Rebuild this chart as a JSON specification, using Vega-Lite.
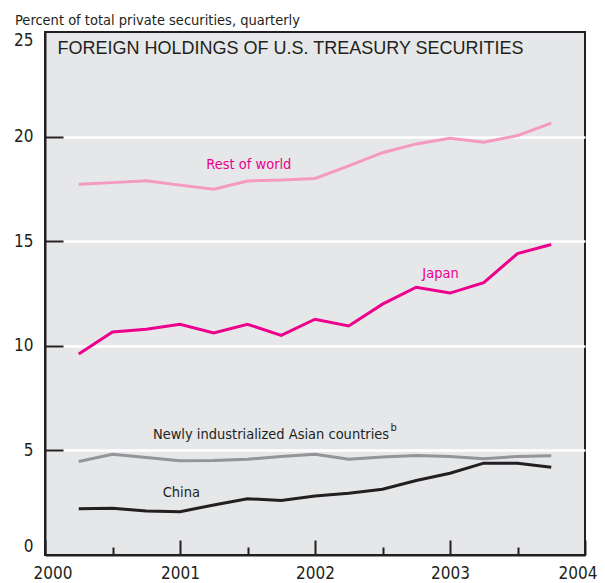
{
  "$schema": "https://vega.github.io/schema/vega-lite/v6.json",
  "width": 540,
  "height": 523,
  "autosize": {"type": "none"},
  "padding": {"left": 45, "top": 32, "right": 20, "bottom": 28},
  "background": "white",
  "config": {
    "view": {"fill": "#e6e7e8", "stroke": "#231f20", "strokeWidth": 2},
    "font": "DejaVu Sans Condensed, Liberation Sans Narrow, Roboto, sans-serif"
  },
  "title": {
    "text": "Percent of total private securities, quarterly",
    "anchor": "start",
    "frame": "group",
    "orient": "top",
    "offset": -8,
    "dx": -30,
    "baseline": "alphabetic",
    "font": "DejaVu Sans Condensed, Liberation Sans Narrow, Roboto, sans-serif",
    "fontSize": 14.5,
    "fontWeight": "normal",
    "color": "#231f20"
  },
  "datasets": {
    "series": [
      {"series": "Rest of world", "date": 2000.25, "value": 17.72},
      {"series": "Rest of world", "date": 2000.5, "value": 17.8},
      {"series": "Rest of world", "date": 2000.75, "value": 17.89},
      {"series": "Rest of world", "date": 2001.0, "value": 17.68},
      {"series": "Rest of world", "date": 2001.25, "value": 17.48},
      {"series": "Rest of world", "date": 2001.5, "value": 17.88},
      {"series": "Rest of world", "date": 2001.75, "value": 17.92},
      {"series": "Rest of world", "date": 2002.0, "value": 18.0},
      {"series": "Rest of world", "date": 2002.25, "value": 18.6},
      {"series": "Rest of world", "date": 2002.5, "value": 19.23},
      {"series": "Rest of world", "date": 2002.75, "value": 19.65},
      {"series": "Rest of world", "date": 2003.0, "value": 19.92},
      {"series": "Rest of world", "date": 2003.25, "value": 19.73},
      {"series": "Rest of world", "date": 2003.5, "value": 20.05},
      {"series": "Rest of world", "date": 2003.75, "value": 20.64},
      {"series": "Japan", "date": 2000.25, "value": 9.61},
      {"series": "Japan", "date": 2000.5, "value": 10.66},
      {"series": "Japan", "date": 2000.75, "value": 10.79},
      {"series": "Japan", "date": 2001.0, "value": 11.03},
      {"series": "Japan", "date": 2001.25, "value": 10.61},
      {"series": "Japan", "date": 2001.5, "value": 11.03},
      {"series": "Japan", "date": 2001.75, "value": 10.5},
      {"series": "Japan", "date": 2002.0, "value": 11.27},
      {"series": "Japan", "date": 2002.25, "value": 10.95},
      {"series": "Japan", "date": 2002.5, "value": 11.99},
      {"series": "Japan", "date": 2002.75, "value": 12.8},
      {"series": "Japan", "date": 2003.0, "value": 12.52},
      {"series": "Japan", "date": 2003.25, "value": 13.02},
      {"series": "Japan", "date": 2003.5, "value": 14.41},
      {"series": "Japan", "date": 2003.75, "value": 14.84},
      {"series": "Newly industrialized Asian countries", "date": 2000.25, "value": 4.47},
      {"series": "Newly industrialized Asian countries", "date": 2000.5, "value": 4.82},
      {"series": "Newly industrialized Asian countries", "date": 2000.75, "value": 4.66},
      {"series": "Newly industrialized Asian countries", "date": 2001.0, "value": 4.5},
      {"series": "Newly industrialized Asian countries", "date": 2001.25, "value": 4.52},
      {"series": "Newly industrialized Asian countries", "date": 2001.5, "value": 4.58},
      {"series": "Newly industrialized Asian countries", "date": 2001.75, "value": 4.71},
      {"series": "Newly industrialized Asian countries", "date": 2002.0, "value": 4.82},
      {"series": "Newly industrialized Asian countries", "date": 2002.25, "value": 4.58},
      {"series": "Newly industrialized Asian countries", "date": 2002.5, "value": 4.68},
      {"series": "Newly industrialized Asian countries", "date": 2002.75, "value": 4.76},
      {"series": "Newly industrialized Asian countries", "date": 2003.0, "value": 4.71},
      {"series": "Newly industrialized Asian countries", "date": 2003.25, "value": 4.6},
      {"series": "Newly industrialized Asian countries", "date": 2003.5, "value": 4.71},
      {"series": "Newly industrialized Asian countries", "date": 2003.75, "value": 4.74},
      {"series": "China", "date": 2000.25, "value": 2.21},
      {"series": "China", "date": 2000.5, "value": 2.24},
      {"series": "China", "date": 2000.75, "value": 2.1},
      {"series": "China", "date": 2001.0, "value": 2.07},
      {"series": "China", "date": 2001.25, "value": 2.39},
      {"series": "China", "date": 2001.5, "value": 2.69},
      {"series": "China", "date": 2001.75, "value": 2.6},
      {"series": "China", "date": 2002.0, "value": 2.82},
      {"series": "China", "date": 2002.25, "value": 2.95},
      {"series": "China", "date": 2002.5, "value": 3.14},
      {"series": "China", "date": 2002.75, "value": 3.56},
      {"series": "China", "date": 2003.0, "value": 3.91},
      {"series": "China", "date": 2003.25, "value": 4.39},
      {"series": "China", "date": 2003.5, "value": 4.39},
      {"series": "China", "date": 2003.75, "value": 4.2}
    ],
    "labels": [
      {"series": "Rest of world", "label": "Rest of world", "date": 2001.51, "value": 18.64},
      {"series": "Japan", "label": "Japan", "date": 2002.93, "value": 13.42},
      {"series": "Newly industrialized Asian countries", "label": "Newly industrialized Asian countries", "date": 2001.674, "value": 5.74},
      {"series": "China", "label": "China", "date": 2001.01, "value": 2.96}
    ],
    "notes": [
      {"series": "Newly industrialized Asian countries", "label": "b", "date": 2002.56, "value": 6.05}
    ]
  },
  "layer": [
    {
      "data": {"name": "series"},
      "mark": {"type": "line", "strokeWidth": 3, "strokeJoin": "miter"},
      "encoding": {
        "x": {
          "field": "date",
          "type": "quantitative",
          "scale": {"domain": [2000, 2004], "nice": false, "zero": false},
          "axis": {
            "title": null,
            "values": [2000, 2000.25, 2000.5, 2000.75, 2001, 2001.25, 2001.5, 2001.75, 2002, 2002.25, 2002.5, 2002.75, 2003, 2003.25, 2003.5, 2003.75, 2004],
            "labelExpr": "datum.value % 1 === 0 ? format(datum.value, 'd') : ''",
            "tickSize": {"condition": {"test": "datum.value % 1 === 0", "value": -15}, "value": -8},
            "tickColor": "#231f20",
            "tickWidth": 2,
            "domainColor": "#231f20",
            "domainWidth": 2,
            "grid": false,
            "labelPadding": 25,
            "labelFontSize": 17,
            "labelColor": "#231f20",
            "labelOverlap": false,
            "labelBound": false,
            "labelFlush": true,
            "labelFlushOffset": 12
          }
        },
        "y": {
          "field": "value",
          "type": "quantitative",
          "scale": {"domain": [0, 25], "nice": false},
          "axis": {
            "values": [0, 5, 10, 15, 20, 25],
            "title": "FOREIGN HOLDINGS OF U.S. TREASURY SECURITIES",
            "titleAngle": 0,
            "titleAlign": "left",
            "titleBaseline": "alphabetic",
            "titleX": 12,
            "titleY": 21,
            "titleFontSize": 18,
            "titleFontWeight": "normal",
            "titleFont": "Liberation Sans, Arial, sans-serif",
            "titleColor": "#231f20",
            "tickSize": -18,
            "tickColor": "#231f20",
            "tickWidth": 2,
            "tickOpacity": {"condition": {"test": "datum.value === 0 || datum.value === 25", "value": 0}, "value": 1},
            "domainColor": "#231f20",
            "domainWidth": 2,
            "grid": true,
            "gridColor": "white",
            "gridWidth": 2.5,
            "gridOpacity": {"condition": {"test": "datum.value === 0 || datum.value === 25", "value": 0}, "value": 1},
            "labelPadding": 30,
            "labelFontSize": 17,
            "labelColor": "#231f20",
            "labelFlush": true
          }
        },
        "color": {
          "field": "series",
          "type": "nominal",
          "scale": {
            "domain": ["Rest of world", "Japan", "Newly industrialized Asian countries", "China"],
            "range": ["#f49ac1", "#ec008c", "#939598", "#231f20"]
          },
          "legend": null
        }
      }
    },
    {
      "data": {"name": "labels"},
      "mark": {"type": "text", "fontSize": 14.5, "align": "center", "baseline": "middle"},
      "encoding": {
        "x": {"field": "date", "type": "quantitative"},
        "y": {"field": "value", "type": "quantitative"},
        "text": {"field": "label"},
        "color": {
          "field": "series",
          "type": "nominal",
          "scale": {
            "domain": ["Rest of world", "Japan", "Newly industrialized Asian countries", "China"],
            "range": ["#ec008c", "#ec008c", "#231f20", "#231f20"]
          },
          "legend": null
        }
      }
    },
    {
      "data": {"name": "notes"},
      "mark": {"type": "text", "fontSize": 11, "align": "left", "baseline": "middle", "color": "#231f20"},
      "encoding": {
        "x": {"field": "date", "type": "quantitative"},
        "y": {"field": "value", "type": "quantitative"},
        "text": {"field": "label"}
      }
    }
  ],
  "resolve": {"scale": {"color": "independent"}}
}
